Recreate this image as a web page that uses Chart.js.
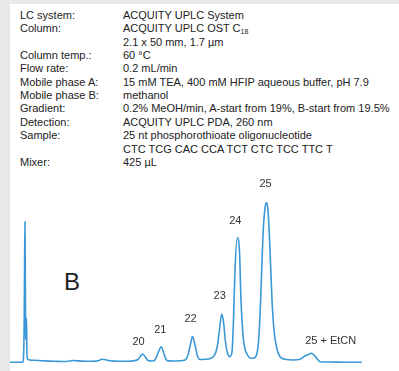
<!DOCTYPE html>
<html>
<head>
<meta charset="utf-8">
<script src="https://cdn.jsdelivr.net/npm/chart.js@4.4.1/dist/chart.umd.min.js"></script>
<style>
  html, body { margin: 0; padding: 0; }
  body { width: 399px; height: 371px; background: #e7e8ea; position: relative; overflow: hidden;
         font-family: "Liberation Sans", Arial, sans-serif; color: #222; }
  #panel { position: absolute; left: 10px; top: 4px; right: 0; bottom: 0; background: #fff; }
  .k, .v { position: absolute; font-size: 11px; line-height: 13px; white-space: nowrap; }
  .k { left: 20px; }
  .v { left: 123px; }
  sub { font-size: 7px; vertical-align: -2px; line-height: 0; }
  #panelTag { position: absolute; left: 64px; top: 268px; font-size: 24px; color: #222; }
  #chrom { position: absolute; left: 10px; top: 170px; }
</style>
</head>
<body>
<div id="panel"></div>
<div id="meta"></div>
<div id="panelTag">B</div>
<canvas id="chrom" width="389" height="201"></canvas>
<script>
// Method conditions printed above the chromatogram
const conditionKeys = ["LC system:", "Column:", "", "Column temp.:", "Flow rate:", "Mobile phase A:",
  "Mobile phase B:", "Gradient:", "Detection:", "Sample:", "", "Mixer:"];
const conditionValues = ["ACQUITY UPLC System", "ACQUITY UPLC OST C<sub>18</sub>", "2.1 x 50 mm, 1.7 µm",
  "60 °C", "0.2 mL/min", "15 mM TEA, 400 mM HFIP aqueous buffer, pH 7.9", "methanol",
  "0.2% MeOH/min, A-start from 19%, B-start from 19.5%", "ACQUITY UPLC PDA, 260 nm",
  "25 nt phosphorothioate oligonucleotide", "CTC TCG CAC CCA TCT CTC TCC TTC T", "425 µL"];

// Chromatogram trace: retention time (min) and UV absorbance (mAU)
const timeMin = [0, 0.8, 1.3, 1.42, 1.46, 1.5, 1.56, 1.6, 1.65, 1.7, 1.8, 2.0, 2.5, 3.5, 4.5, 5.3, 5.8, 6.2,
  7.5, 8.3, 8.8, 9.2, 10.0, 11.0, 11.8, 12.4, 12.8, 13.25, 13.5, 13.8, 14.2, 14.5, 14.8, 15.13, 15.4,
  15.7, 16.2, 17.0, 17.5, 17.8, 18.05, 18.25, 18.5, 18.75, 19.0, 19.5, 20.0, 20.4, 20.7, 20.95, 21.17,
  21.35, 21.55, 21.75, 22.0, 22.2, 22.35, 22.5, 22.73, 22.95, 23.1, 23.3, 23.5, 23.7, 24.0, 24.33,
  24.65, 24.9, 25.1, 25.3, 25.5, 25.65, 25.8, 26.0, 26.2, 26.4, 26.67, 27.0, 27.5, 28.33, 29.0, 29.5,
  29.8, 30.17, 30.4, 30.67, 31.0, 32.0, 33.5, 35.17];
const absMAU = [-0.8, -0.8, -0.6, 40, 100, 139.8, 30, 22, 43, 6, 2, 1.5, 1.2, 0.6, 0.2, 0, 0.2, 1.0,
  0.2, 0.2, 0.7, 2.2, 0.7, 0.2, 0.2, 0.7, 2.0, 7.5, 5.0, 1.0, 0.5, 1.5, 8.5, 14.8, 7.5, 1.0, 0.5,
  0.7, 1.5, 6.5, 17.5, 25.0, 16.5, 5.5, 2.0, 2.2, 3.0, 5.5, 13.5, 31.5, 47.5, 39.5, 19.5, 8.5, 4.8,
  9.5, 41.5, 91.5, 123.8, 109.5, 61.5, 26.5, 12.5, 7.5, 3.5, 3.2, 6.5, 26.5, 71.5, 126.5, 153.5, 159,
  151.5, 111.5, 61.5, 31.5, 13.5, 4.8, 2.2, 1.5, 2.2, 5.5, 7.0, 8.2, 6.5, 3.2, -0.2, -0.5, -0.8, -0.8];

// Peak annotations: oligonucleotide length at its retention time
const peakNames = ["20", "21", "22", "23", "24", "25", "25 + EtCN"];
const peakTimes = [13.25, 15.13, 18.25, 21.17, 22.73, 25.65, 30.17];

const meta = document.getElementById('meta');
conditionKeys.forEach((k, i) => {
  const top = 9 + i * 13.35;
  const a = document.createElement('div');
  a.className = 'k'; a.style.top = top + 'px'; a.textContent = k;
  const b = document.createElement('div');
  b.className = 'v'; b.style.top = top + 'px'; b.innerHTML = conditionValues[i];
  meta.appendChild(a); meta.appendChild(b);
});

const points = timeMin.map((t, i) => ({ x: t, y: absMAU[i] }));

// label placement tweaks (px) relative to each apex
const nudgeX = [-4, -1, -2, -2, -2, -1, 19];
const nudgeY = [-7, -11, -12, -13, -11, -13, -7];

const peakLabels = {
  id: 'peakLabels',
  afterDatasetsDraw(chart) {
    const { ctx, scales } = chart;
    ctx.save();
    ctx.font = '11px "Liberation Sans", Arial, sans-serif';
    ctx.fillStyle = '#333';
    ctx.textAlign = 'center';
    ctx.textBaseline = 'bottom';
    peakNames.forEach((name, i) => {
      const t = peakTimes[i];
      const idx = timeMin.indexOf(t);
      const x = scales.x.getPixelForValue(t) + nudgeX[i];
      const y = scales.y.getPixelForValue(absMAU[idx]) + nudgeY[i];
      ctx.fillText(name, x, y);
    });
    ctx.restore();
  }
};

new Chart(document.getElementById('chrom'), {
  type: 'line',
  data: { datasets: [{
    data: points,
    borderColor: '#3b98d6',
    borderWidth: 1.6,
    pointRadius: 0,
    fill: false,
    cubicInterpolationMode: 'monotone'
  }] },
  options: {
    responsive: false,
    devicePixelRatio: 1,
    animation: false,
    layout: { padding: 0 },
    plugins: { legend: { display: false }, tooltip: { enabled: false } },
    scales: {
      x: { type: 'linear', display: false, min: 0, max: 38.9 },
      y: { display: false, min: -9.5, max: 191.5 }
    }
  },
  plugins: [peakLabels]
});
</script>
</body>
</html>
